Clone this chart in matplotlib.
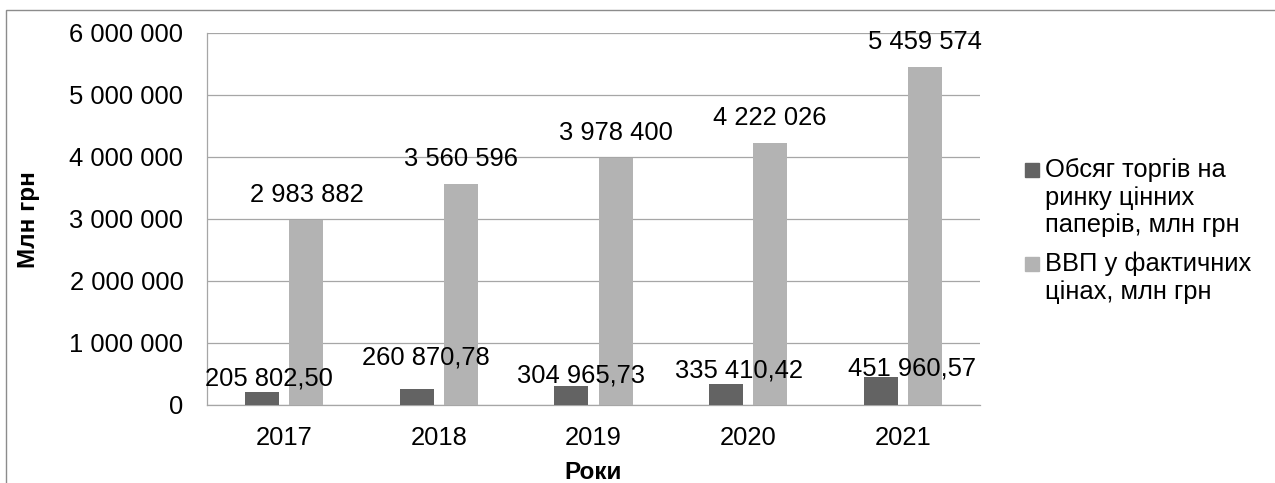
"""Обсяг торгів на ринку цінних паперів та ВВП, 2017-2021."""

import matplotlib

matplotlib.use("Agg")

import matplotlib.pyplot as plt
from matplotlib.patches import Rectangle

years = ["2017", "2018", "2019", "2020", "2021"]
trade_volume = [205802.50, 260870.78, 304965.73, 335410.42, 451960.57]
gdp = [2983882, 3560596, 3978400, 4222026, 5459574]
series_labels = [
    "Обсяг торгів на\nринку цінних\nпаперів, млн грн",
    "ВВП у фактичних\nцінах, млн грн",
]
series_colors = ["#636363", "#b3b3b3"]
y_ticks = [0, 1000000, 2000000, 3000000, 4000000, 5000000, 6000000]

plt.rcParams["font.family"] = ["Liberation Sans", "DejaVu Sans"]
FS = 18.4
FS_TITLE = 17.5
GRID = "#a6a6a6"


def fmt_int(v):
    return f"{v:,.0f}".replace(",", " ")


def fmt_dec(v):
    return f"{v:,.2f}".replace(",", " ").replace(".", ",")


W, H = 1275, 483
fig = plt.figure(figsize=(W / 100, H / 100), dpi=100)
ax = fig.add_axes([207 / W, 1 - 405 / H, (980 - 207) / W, (405 - 33) / H])

# outer chart frame (cut off at right and bottom edges)
fig.patches.append(Rectangle((6 / W, -0.1), 1.2, 1 - 10 / H + 0.1, transform=fig.transFigure,
                             fill=False, edgecolor="#8c8c8c", lw=1.0))

x = list(range(len(years)))
off, bw = 0.143, 0.22
ax.bar([i - off for i in x], trade_volume, bw, color=series_colors[0], zorder=3)
ax.bar([i + off for i in x], gdp, bw, color=series_colors[1], zorder=3)

dark_dx = [6.5, 9, 10, 13, 31]
dark_dy = [7, 24, 4, 7, 1]
for i, v in enumerate(trade_volume):
    ax.annotate(fmt_dec(v), (i - off, v), xytext=(dark_dx[i], dark_dy[i]),
                textcoords="offset pixels", ha="center", va="baseline", fontsize=FS, zorder=5)
for i, v in enumerate(gdp):
    ax.annotate(fmt_int(v), (i + off, v), xytext=(0, 18),
                textcoords="offset pixels", ha="center", va="baseline", fontsize=FS, zorder=5)

ax.set_xlim(-0.5, len(years) - 0.5)
ax.set_ylim(0, 6000000)
ax.set_yticks(y_ticks)
ax.set_yticklabels([fmt_int(t) for t in y_ticks])
ax.set_xticks(x)
ax.set_xticklabels(years)
ax.tick_params(axis="both", length=0, labelsize=FS)
ax.tick_params(axis="y", pad=17)
ax.tick_params(axis="x", pad=15)
ax.grid(axis="y", color=GRID, lw=0.9, zorder=0)
for side in ("top", "right"):
    ax.spines[side].set_visible(False)
for side in ("left", "bottom"):
    ax.spines[side].set_color(GRID)
    ax.spines[side].set_linewidth(0.9)

fig.text(28 / W, 1 - 220 / H, "Млн грн", rotation=90, ha="center", va="center",
         fontsize=FS_TITLE, fontweight="bold")
fig.text(593 / W, 4 / H, "Роки", ha="center", va="baseline", fontsize=FS_TITLE, fontweight="bold")

# legend drawn by hand so the swatch sits on the first line of each entry
entry_top = [163, 257]
line_h = 27.5
for label, color, top in zip(series_labels, series_colors, entry_top):
    fig.patches.append(Rectangle((1025 / W, 1 - (top + 14) / H), 14 / W, 14 / H,
                                 transform=fig.transFigure, color=color))
    for k, line in enumerate(label.split("\n")):
        fig.text(1045 / W, 1 - (top + 14 + k * line_h) / H, line, ha="left", va="baseline",
                 fontsize=FS)

fig.savefig("out.png", dpi=100)
